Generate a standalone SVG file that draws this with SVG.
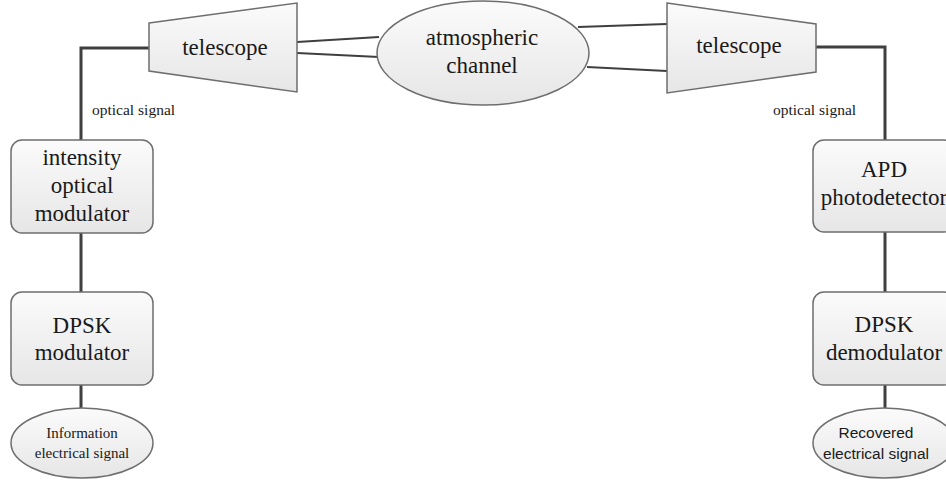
<svg xmlns="http://www.w3.org/2000/svg" width="946" height="484" viewBox="0 0 946 484">
<defs>
<linearGradient id="g" x1="0" y1="0" x2="0" y2="1">
<stop offset="0" stop-color="#fbfbfb"/>
<stop offset="1" stop-color="#e6e6e6"/>
</linearGradient>
<style>
.shape{fill:url(#g);stroke:#6e6e6e;stroke-width:1.5}
.conn{fill:none;stroke:#3f3f3f;stroke-width:3}
.thin{fill:none;stroke:#3f3f3f;stroke-width:2}
.t{font-family:"Liberation Serif","Times New Roman",serif;font-size:23px;fill:#1a1a1a;text-anchor:middle}
.s{font-family:"Liberation Serif","Times New Roman",serif;font-size:15.5px;fill:#1a1a1a}
.e{font-family:"Liberation Serif","Times New Roman",serif;font-size:15px;fill:#1a1a1a;text-anchor:middle}
.r{font-family:"Liberation Sans",Arial,sans-serif;font-size:15.5px;fill:#1a1a1a;text-anchor:middle}
</style>
</defs>
<rect width="946" height="484" fill="#ffffff"/>
<g id="connectors">
<polyline class="conn" points="149,48 81,48 81,140"/>
<line class="conn" x1="81" y1="233" x2="81" y2="292"/>
<line class="conn" x1="81" y1="385" x2="81" y2="408"/>
<polyline class="conn" points="816,47 885,47 885,140"/>
<line class="conn" x1="885" y1="232" x2="885" y2="292"/>
<line class="conn" x1="885" y1="385" x2="885" y2="408"/>
<line class="thin" x1="297" y1="42" x2="379" y2="37"/>
<line class="thin" x1="297" y1="53" x2="379" y2="57"/>
<line class="thin" x1="578" y1="27" x2="667" y2="24"/>
<line class="thin" x1="587" y1="67" x2="667" y2="71"/>
<text class="s" x="92" y="115">optical signal</text>
<text class="s" x="773" y="115">optical signal</text>
</g>
<g id="telescope-left">
<polygon class="shape" points="149,23 297,3 297,92 149,71"/>
<text class="t" x="225" y="55">telescope</text>
</g>
<g id="atmospheric-channel">
<ellipse class="shape" cx="483" cy="53" rx="106" ry="52"/>
<text class="t" x="482" y="45">atmospheric</text>
<text class="t" x="482" y="73">channel</text>
</g>
<g id="telescope-right">
<polygon class="shape" points="667,3 816,24 816,72 667,93"/>
<text class="t" x="739" y="53">telescope</text>
</g>
<g id="intensity-optical-modulator">
<rect class="shape" x="11" y="140" width="142" height="93" rx="11"/>
<text class="t" x="82" y="165">intensity</text>
<text class="t" x="82" y="193">optical</text>
<text class="t" x="82" y="221">modulator</text>
</g>
<g id="dpsk-modulator">
<rect class="shape" x="11" y="292" width="142" height="93" rx="11"/>
<text class="t" x="82" y="333">DPSK</text>
<text class="t" x="82" y="360">modulator</text>
</g>
<g id="information-signal">
<ellipse class="shape" cx="82" cy="443" rx="71" ry="35"/>
<text class="e" x="82" y="438">Information</text>
<text class="e" x="82" y="458">electrical signal</text>
</g>
<g id="apd-photodetector">
<rect class="shape" x="813" y="140" width="142" height="92" rx="11"/>
<text class="t" x="884" y="177">APD</text>
<text class="t" x="884" y="205">photodetector</text>
</g>
<g id="dpsk-demodulator">
<rect class="shape" x="813" y="292" width="142" height="93" rx="11"/>
<text class="t" x="884" y="332">DPSK</text>
<text class="t" x="884" y="360">demodulator</text>
</g>
<g id="recovered-signal">
<ellipse class="shape" cx="884" cy="443" rx="71" ry="35"/>
<text class="r" x="876" y="438">Recovered</text>
<text class="r" x="876" y="459">electrical signal</text>
</g>
</svg>
